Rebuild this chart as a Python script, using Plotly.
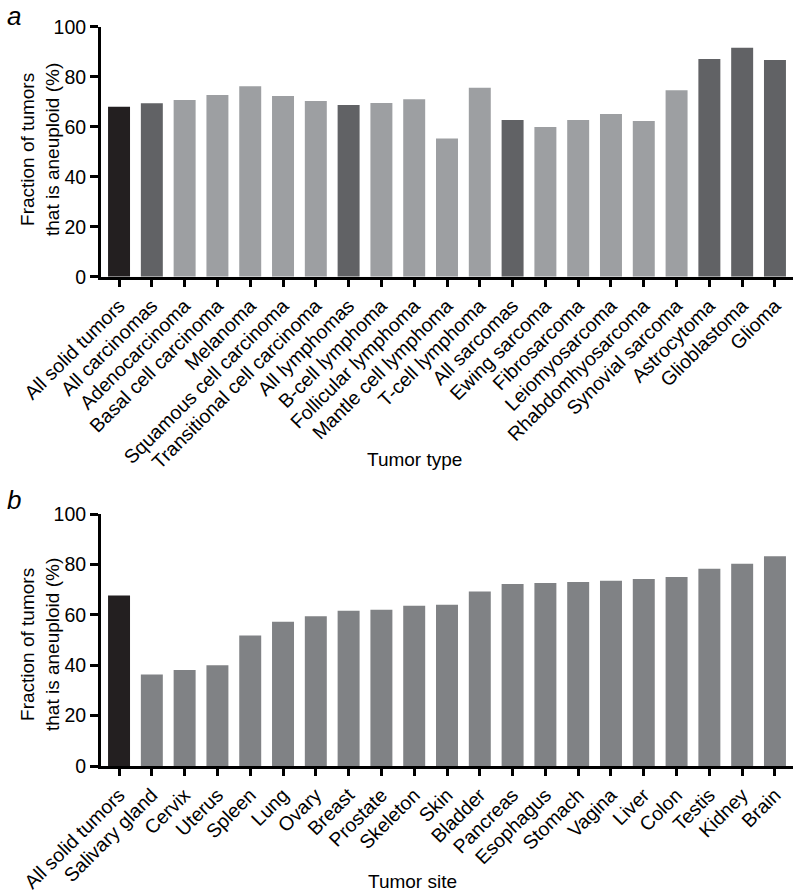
import plotly.graph_objects as go

# ---------------- data ----------------
type_labels = ["All solid tumors", "All carcinomas", "Adenocarcinoma", "Basal cell carcinoma",
               "Melanoma", "Squamous cell carcinoma", "Transitional cell carcinoma",
               "All lymphomas", "B-cell lymphoma", "Follicular lymphoma", "Mantle cell lymphoma",
               "T-cell lymphoma", "All sarcomas", "Ewing sarcoma", "Fibrosarcoma",
               "Leiomyosarcoma", "Rhabdomhyosarcoma", "Synovial sarcoma", "Astrocytoma",
               "Glioblastoma", "Glioma"]
type_values = [68.0, 69.4, 70.7, 72.7, 76.2, 72.3, 70.3, 68.7, 69.5, 71.0, 55.3,
               75.6, 62.7, 59.9, 62.7, 65.1, 62.3, 74.6, 87.1, 91.6, 86.7]
type_groups = ["overall", "class", "sub", "sub", "sub", "sub", "sub",
               "class", "sub", "sub", "sub", "sub", "class", "sub", "sub",
               "sub", "sub", "sub", "class", "class", "class"]

site_labels = ["All solid tumors", "Salivary gland", "Cervix", "Uterus", "Spleen", "Lung",
               "Ovary", "Breast", "Prostate", "Skeleton", "Skin", "Bladder", "Pancreas",
               "Esophagus", "Stomach", "Vagina", "Liver", "Colon", "Testis", "Kidney", "Brain"]
site_values = [67.7, 36.4, 38.1, 40.0, 51.8, 57.3, 59.5, 61.7, 62.1, 63.7, 64.1, 69.3,
               72.3, 72.7, 73.1, 73.6, 74.3, 75.1, 78.4, 80.4, 83.3]
site_groups = ["overall"] + ["site"] * 20

y_ticks = [0, 20, 40, 60, 80, 100]

# ---------------- styles ----------------
group_color = {"overall": "#231f20", "class": "#616265", "sub": "#9d9fa2", "site": "#808285"}
FONT = "Liberation Sans, Arial, Helvetica, sans-serif"
W, H = 800, 894

fig = go.Figure()
fig.add_trace(go.Bar(x=type_labels, y=type_values,
                     marker=dict(color=[group_color[g] for g in type_groups], line_width=0),
                     width=0.67, xaxis="x", yaxis="y", showlegend=False))
fig.add_trace(go.Bar(x=site_labels, y=site_values,
                     marker=dict(color=[group_color[g] for g in site_groups], line_width=0),
                     width=0.67, xaxis="x2", yaxis="y2", showlegend=False))

def py(pix):
    return (H - pix) / H

xcommon = dict(showline=True, linecolor="black", linewidth=3, ticks="outside",
               ticklen=7, tickwidth=2.5, tickcolor="black", tickangle=-45,
               tickfont=dict(size=19.5, color="black", family=FONT), automargin=False,
               showgrid=False, zeroline=False, range=[-0.55, 20.55], domain=[0, 1])
ycommon = dict(showline=True, linecolor="black", linewidth=3, ticks="outside",
               ticklen=8, tickwidth=2.5, tickcolor="black", tickvals=y_ticks,
               tickfont=dict(size=19.5, color="black", family=FONT), automargin=False,
               showgrid=False, zeroline=False, range=[0, 100])

fig.update_layout(
    width=W, height=H,
    margin=dict(l=101, r=7, t=0, b=0, autoexpand=False),
    paper_bgcolor="white", plot_bgcolor="white",
    font=dict(family=FONT, color="black"),
    xaxis=dict(**xcommon, anchor="y"),
    yaxis=dict(**ycommon, domain=[py(276.7), py(26.7)], anchor="x"),
    xaxis2=dict(**xcommon, anchor="y2"),
    yaxis2=dict(**ycommon, domain=[py(766), py(514.3)], anchor="x2"),
)

ytitle = "Fraction of tumors<br>that is aneuploid (%)"
ann = [
    dict(text="<i>a</i>", x=14, y=16, font_size=26),
    dict(text="<i>b</i>", x=14, y=500, font_size=26),
    dict(text=ytitle, x=40, y=150, font_size=19, textangle=-90),
    dict(text=ytitle, x=40, y=645, font_size=19, textangle=-90),
    dict(text="Tumor type", x=414, y=459, font_size=19),
    dict(text="Tumor site", x=412, y=881, font_size=19),
]
for a in ann:
    fig.add_annotation(text=a["text"], xref="paper", yref="paper",
                       x=(a["x"] - 101) / (W - 108), y=py(a["y"]),
                       xanchor="center", yanchor="middle", showarrow=False,
                       textangle=a.get("textangle", 0),
                       font=dict(size=a["font_size"], color="black", family=FONT))

fig.write_html("out.html", config={"displayModeBar": False},
               post_script="document.body.style.margin='0';document.body.style.overflow='hidden';")
